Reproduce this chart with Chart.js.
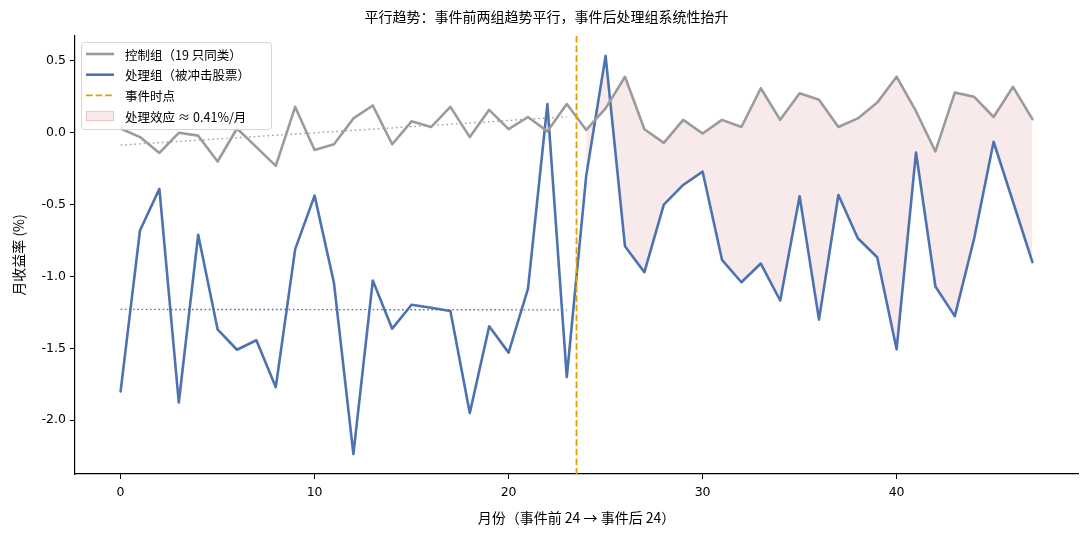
<!DOCTYPE html>
<html><head><meta charset="utf-8">
<script src="https://cdn.jsdelivr.net/npm/chart.js@4.4.1/dist/chart.umd.min.js"></script>
<style>html,body{margin:0;padding:0;background:#fff}#wrap{width:1085px;height:535px;position:relative}</style>
</head><body><div id="wrap"><canvas id="c" width="1085" height="535" style="width:1085px;height:535px"></canvas></div>
<script>
// ---------- data ----------
const MONTHS = [0,1,2,3,4,5,6,7,8,9,10,11,12,13,14,15,16,17,18,19,20,21,22,23,
                24,25,26,27,28,29,30,31,32,33,34,35,36,37,38,39,40,41,42,43,44,45,46,47];
const CONTROL = [0.03,-0.03,-0.14,0.00,-0.02,-0.20,0.03,-0.10,-0.23,0.18,
                 -0.12,-0.08,0.10,0.19,-0.08,0.08,0.04,0.18,-0.03,0.16,
                 0.025,0.11,0.01,0.20,0.02,0.17,0.39,0.025,-0.07,0.09,
                 -0.005,0.09,0.04,0.31,0.09,0.275,0.23,0.04,0.10,0.21,
                 0.39,0.15,-0.13,0.28,0.25,0.11,0.32,0.095];
const TREATED = [-1.80,-0.68,-0.39,-1.877,-0.71,-1.368,-1.51,-1.444,-1.77,-0.81,
                 -0.4375,-1.046,-2.236,-1.028,-1.363,-1.197,-1.218,-1.24,-1.95,-1.347,
                 -1.53,-1.085,0.20,-1.70,-0.30,0.535,-0.79,-0.97,-0.50,-0.363,
                 -0.27,-0.884,-1.04,-0.91,-1.167,-0.442,-1.30,-0.433,-0.734,-0.866,
                 -1.507,-0.137,-1.07,-1.276,-0.734,-0.0625,-0.48,-0.90];
const PRE_MONTHS = 24;          // months before the event
const EVENT_X = 23.5;           // event time marker
const X_TICKS = [0,10,20,30,40];
const Y_TICKS = [-2.0,-1.5,-1.0,-0.5,0.0,0.5];
const TITLE = '平行趋势：事件前两组趋势平行，事件后处理组系统性抬升';
const X_LABEL = '月份（事件前 24 → 事件后 24）';
const Y_LABEL = '月收益率 (%)';
const LEGEND_LABELS = ['控制组（19 只同类）','处理组（被冲击股票）','事件时点','处理效应 ≈ 0.41%/月'];

// ---------- styles ----------
const FONT = '"Noto Sans CJK SC", "DejaVu Sans", sans-serif';
const TICK_FONT = '"DejaVu Sans", sans-serif';
const C_CTRL = '#9b9b9b', C_TREAT = '#4c72b0', C_EVENT = '#e69f00', C_FILL = 'rgba(196,78,82,0.12)', C_FILL_EDGE = 'rgba(196,78,82,0.25)';

const pts = (xs, ys) => xs.map((x, i) => ({x, y: ys[i]}));
function fitLine(xs, ys) {
  const n = xs.length, mx = xs.reduce((a,b)=>a+b,0)/n, my = ys.reduce((a,b)=>a+b,0)/n;
  let sxy = 0, sxx = 0;
  xs.forEach((x,i)=>{ sxy += (x-mx)*(ys[i]-my); sxx += (x-mx)*(x-mx); });
  const b = sxy/sxx, a = my - b*mx;
  return [{x: xs[0], y: a + b*xs[0]}, {x: xs[n-1], y: a + b*xs[n-1]}];
}
const preX = MONTHS.slice(0, PRE_MONTHS), postX = MONTHS.slice(PRE_MONTHS);
const ctrlTrend = fitLine(preX, CONTROL.slice(0, PRE_MONTHS));
const treatTrend = fitLine(preX, TREATED.slice(0, PRE_MONTHS));

const allY = CONTROL.concat(TREATED);
const yMinD = Math.min(...allY), yMaxD = Math.max(...allY);
const yPad = (yMaxD - yMinD) * 0.05;
const xMinD = MONTHS[0], xMaxD = MONTHS[MONTHS.length-1], xPad = (xMaxD - xMinD) * 0.05;

const extras = {
  id: 'extras',
  afterDatasetsDraw(chart) {
    const {ctx, chartArea: a, scales: {x}} = chart;
    const px = x.getPixelForValue(EVENT_X);
    ctx.save();
    ctx.strokeStyle = C_EVENT; ctx.lineWidth = 1.8; ctx.setLineDash([6.7, 2.9]);
    ctx.beginPath(); ctx.moveTo(px, a.top); ctx.lineTo(px, a.bottom); ctx.stroke();
    ctx.restore();
  },
  afterDraw(chart) {
    const {ctx, chartArea: a} = chart;
    ctx.save();
    // title
    ctx.fillStyle = '#000'; ctx.font = '14px ' + FONT; ctx.textAlign = 'center'; ctx.textBaseline = 'middle';
    ctx.fillText(TITLE, chart.width / 2 + 4, 17);
    // legend
    const bx = a.left + 6, by = a.top + 6, bw = 190, bh = 87, row = 20.7;
    ctx.fillStyle = 'rgba(255,255,255,0.8)'; ctx.strokeStyle = '#d6d6d6'; ctx.lineWidth = 1;
    ctx.beginPath(); ctx.roundRect(bx + 0.5, by + 0.5, bw, bh, 3); ctx.fill(); ctx.stroke();
    ctx.font = '12.5px ' + FONT; ctx.textAlign = 'left'; ctx.fillStyle = '#000';
    const hx = bx + 5, hw = 28;
    LEGEND_LABELS.forEach((lab, i) => {
      const cy = by + 12 + i * row;
      if (i < 3) {
        ctx.beginPath(); ctx.moveTo(hx, cy); ctx.lineTo(hx + hw, cy);
        ctx.strokeStyle = [C_CTRL, C_TREAT, C_EVENT][i];
        ctx.lineWidth = i < 2 ? 2.6 : 1.8;
        ctx.setLineDash(i === 2 ? [6.7, 2.9] : []);
        ctx.stroke(); ctx.setLineDash([]);
      } else {
        ctx.fillStyle = C_FILL; ctx.fillRect(hx, cy - 5, hw, 10);
        ctx.strokeStyle = C_FILL_EDGE; ctx.lineWidth = 1; ctx.strokeRect(hx + 0.5, cy - 4.5, hw - 1, 9);
      }
      ctx.fillStyle = '#000';
      ctx.fillText(lab, bx + 44, cy + 1);
    });
    ctx.restore();
  }
};

const lineBase = { pointRadius: 0, tension: 0, fill: false, borderJoinStyle: 'round', borderCapStyle: 'round' };

const chart = new Chart(document.getElementById('c'), {
  type: 'line',
  data: {
    datasets: [
      { ...lineBase, data: pts(MONTHS, CONTROL), borderColor: C_CTRL, borderWidth: 2.6 },
      { ...lineBase, data: pts(MONTHS, TREATED), borderColor: C_TREAT, borderWidth: 2.6 },
      { ...lineBase, data: ctrlTrend, borderColor: '#a0a0a0', borderWidth: 1.4, borderDash: [1.6, 3], borderCapStyle: 'butt' },
      { ...lineBase, data: treatTrend, borderColor: C_TREAT, borderWidth: 1.4, borderDash: [1.6, 2.6], borderCapStyle: 'butt' },
      { ...lineBase, data: pts(postX, CONTROL.slice(PRE_MONTHS)), borderColor: 'rgba(0,0,0,0)', borderWidth: 0 },
      { ...lineBase, data: pts(postX, TREATED.slice(PRE_MONTHS)), borderColor: 'rgba(0,0,0,0)', borderWidth: 0, fill: '-1', backgroundColor: C_FILL }
    ]
  },
  options: {
    responsive: false, maintainAspectRatio: false, animation: false, devicePixelRatio: 1,
    layout: { padding: { left: 10, right: 7, top: 36, bottom: 9 } },
    plugins: { legend: { display: false }, title: { display: false }, tooltip: { enabled: false } },
    scales: {
      x: {
        type: 'linear', min: xMinD - xPad, max: xMaxD + xPad,
        afterBuildTicks: s => { s.ticks = X_TICKS.map(v => ({value: v})); },
        afterFit: s => { s.height = 52; },
        ticks: { color: '#000', font: { family: TICK_FONT, size: 12.5 }, padding: 6, maxRotation: 0 },
        grid: { drawOnChartArea: false, drawTicks: true, tickLength: 5, color: '#000', lineWidth: 1 },
        border: { display: true, color: '#000', width: 1.2 },
        title: { display: true, text: X_LABEL, color: '#000', font: { family: FONT, size: 14 }, padding: { top: 4, bottom: 0 } }
      },
      y: {
        type: 'linear', min: yMinD - yPad, max: yMaxD + yPad,
        afterBuildTicks: s => { s.ticks = Y_TICKS.map(v => ({value: v})); },
        afterFit: s => { s.width = 65; },
        ticks: { color: '#000', font: { family: TICK_FONT, size: 12.5 }, padding: 4, callback: v => v.toFixed(1) },
        grid: { drawOnChartArea: false, drawTicks: true, tickLength: 5, color: '#000', lineWidth: 1 },
        border: { display: true, color: '#000', width: 1.2 },
        title: { display: true, text: Y_LABEL, color: '#000', font: { family: FONT, size: 14 }, padding: { top: 0, bottom: 6 } }
      }
    }
  },
  plugins: [extras]
});
</script></body></html>
